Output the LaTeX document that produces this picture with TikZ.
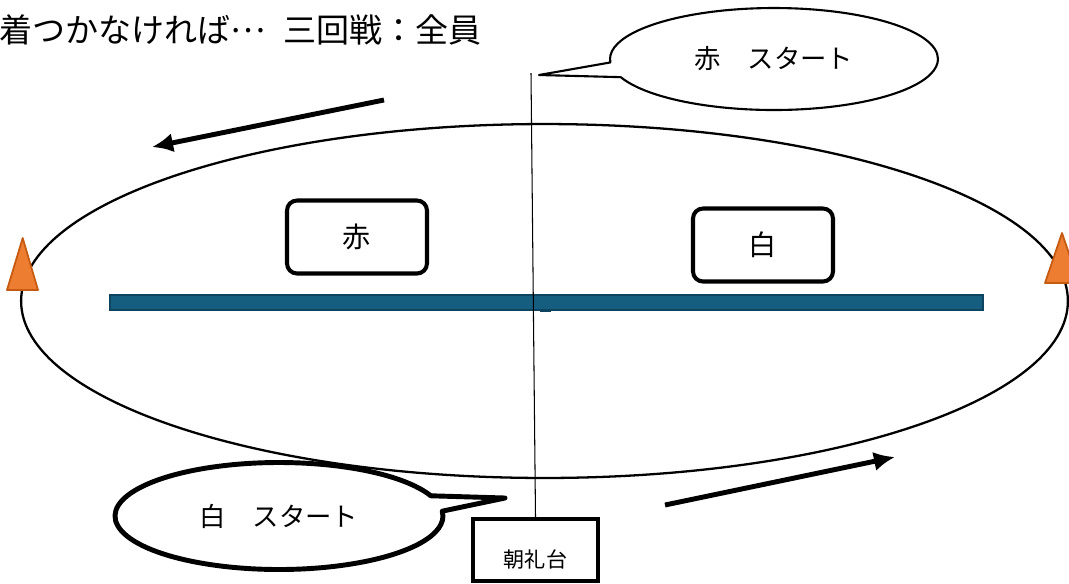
\documentclass[tikz,border=0pt]{standalone}
\usepackage{fontspec}
\setmainfont{Noto Sans CJK JP}
\usepackage{tikz}
\usetikzlibrary{arrows.meta,shapes.geometric,shapes.callouts}

\definecolor{barblue}{RGB}{22,94,128}
\definecolor{bardark}{RGB}{14,68,96}
\definecolor{coneorange}{RGB}{237,125,49}
\definecolor{conedark}{RGB}{197,90,17}

\tikzset{
  teambox/.style={draw, line width=2.3pt, rounded corners=0.2cm, minimum width=2.8cm, minimum height=1.46cm, font=\fontsize{16}{18}\selectfont},
  bubble/.style={ellipse callout, draw, line join=round, callout pointer arc=17, minimum width=6.56cm, inner sep=0pt, font=\fontsize{15}{18}\selectfont},
  runarrow/.style={line width=2.8pt, -{Latex[length=12pt,width=11pt]}},
  cone/.style={fill=coneorange, draw=conedark, line width=1pt, line join=round}
}

\begin{document}
\begin{tikzpicture}[x=0.02cm,y=-0.02cm]
    \useasboundingbox (0,0) rectangle (1069,583);
    %JUDUL
    \node[anchor=west, inner sep=0pt, font=\fontsize{18.8}{22}\selectfont] (title) at (-1,30) {着つかなければ\raisebox{0.3em}{…}\hspace{0.55em}三回戦：全員};
    %LAPANGAN
    \node[ellipse, draw, line width=1.3pt, minimum width=20.94cm, minimum height=7.08cm] (field) at (544.5,301) {};
    %GARIS BIRU
    \node[fill=barblue, draw=bardark, line width=0.8pt, minimum width=17.46cm, minimum height=0.3cm, inner sep=0pt] (bar) at (546.5,302.5) {};
    \fill[bardark] (540,309) rectangle (551,311.5);
    %KERUCUT
    \draw[cone] (22.7,238) -- (38,290) -- (7,290) -- cycle;
    \draw[cone] (1062,233) -- (1079,283) -- (1045,283) -- cycle;
    %KOTAK TIM
    \node[teambox] (red) at (357,237) {赤};
    \node[teambox] (white) at (763,245) {白};
    %PODIUM
    \node[draw, line width=2.5pt, minimum width=2.5cm, minimum height=1.24cm,
          label={[font=\fontsize{12}{14}\selectfont, yshift=-0.18cm]center:朝礼台}] (stand) at (535.5,550) {};
    %GARIS VERTIKAL
    \coordinate (top) at (531,73);
    \draw[line width=0.6pt] (top) -- (stand.north);
    %BALON
    \node[bubble, line width=1.2pt, minimum height=2.04cm, callout absolute pointer={(539,75)}] (redstart) at (774,59) {赤　スタート};
    \node[bubble, line width=2.8pt, minimum height=2.14cm, callout absolute pointer={(505,498)}] (whitestart) at (279,516) {白　スタート};
    %PANAH
    \coordinate (a1) at (384,100);
    \coordinate (a2) at (152,147);
    \draw[runarrow] (a1) -- (a2);
    \coordinate (b1) at (665,505);
    \coordinate (b2) at (895,457);
    \draw[runarrow] (b1) -- (b2);
\end{tikzpicture}
\end{document}
